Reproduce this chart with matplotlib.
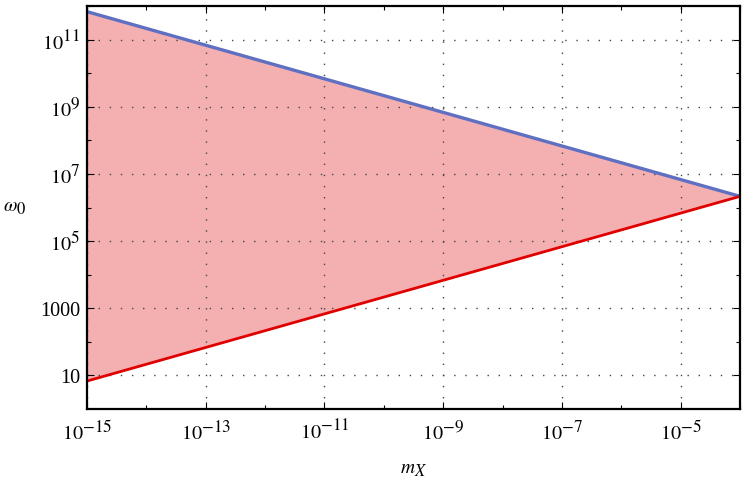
import numpy as np
import matplotlib.pyplot as plt
from matplotlib.ticker import FixedLocator
import matplotlib._mathtext as mathtext_internal

plt.rcParams['font.family'] = 'Liberation Serif'
plt.rcParams['mathtext.fontset'] = 'stix'
# bigger super/subscripts, like the reference
mathtext_internal.SHRINK_FACTOR = 0.85

# data
m_x = [1e-15, 1e-4]
omega_upper = [6.8e11, 2.15e6]
omega_lower = [6.8, 2.15e6]

xmajor = [1e-15, 1e-13, 1e-11, 1e-9, 1e-7, 1e-5]
xlabels = [r'$10^{-15}$', r'$10^{-13}$', r'$10^{-11}$', r'$10^{-9}$', r'$10^{-7}$', r'$10^{-5}$']
xminor = [1e-14, 1e-12, 1e-10, 1e-8, 1e-6, 1e-4]
ymajor = [10, 1000, 1e5, 1e7, 1e9, 1e11]
ylabels = ['10', '1000', r'$10^{5}$', r'$10^{7}$', r'$10^{9}$', r'$10^{11}$']
yminor = [1e2, 1e4, 1e6, 1e8, 1e10, 1e12]

fig = plt.figure(figsize=(7.5, 4.81), dpi=100)
ax = fig.add_axes([0.116, 0.1476, 0.8707, 0.8378])

ax.fill_between(m_x, omega_lower, omega_upper, color='#f4b0b1', lw=0)
ax.plot(m_x, omega_upper, color='#5f6fc1', lw=2.4, solid_capstyle='butt')
ax.plot(m_x, omega_lower, color='#e00000', lw=2.0, solid_capstyle='butt')

ax.set_xscale('log')
ax.set_yscale('log')
ax.set_xlim(1e-15, 1e-4)
ax.set_ylim(1, 1e12)

ax.xaxis.set_major_locator(FixedLocator(xmajor))
ax.xaxis.set_minor_locator(FixedLocator(xminor))
ax.yaxis.set_major_locator(FixedLocator(ymajor))
ax.yaxis.set_minor_locator(FixedLocator(yminor))
ax.set_xticklabels(xlabels)
ax.set_yticklabels(ylabels)
ax.xaxis.set_minor_formatter(plt.NullFormatter())
ax.yaxis.set_minor_formatter(plt.NullFormatter())

ax.tick_params(which='both', direction='in', top=True, right=True, labelsize=14.5, width=0.8)
ax.tick_params(which='major', length=5)
ax.tick_params(which='minor', length=3)
ax.tick_params(axis='x', which='major', pad=8)
ax.tick_params(axis='y', which='major', pad=5)

ax.grid(True, which='major', linestyle=(0, (1, 7)), color='#444444', lw=1.0)
for s in ax.spines.values():
    s.set_linewidth(1.6)

ax.set_xlabel(r'$m_X$', fontsize=14, labelpad=12)
ax.set_ylabel(r'$\omega_0$', fontsize=14, rotation=0, labelpad=18, va='center')

plt.savefig('out.png', dpi=100)
